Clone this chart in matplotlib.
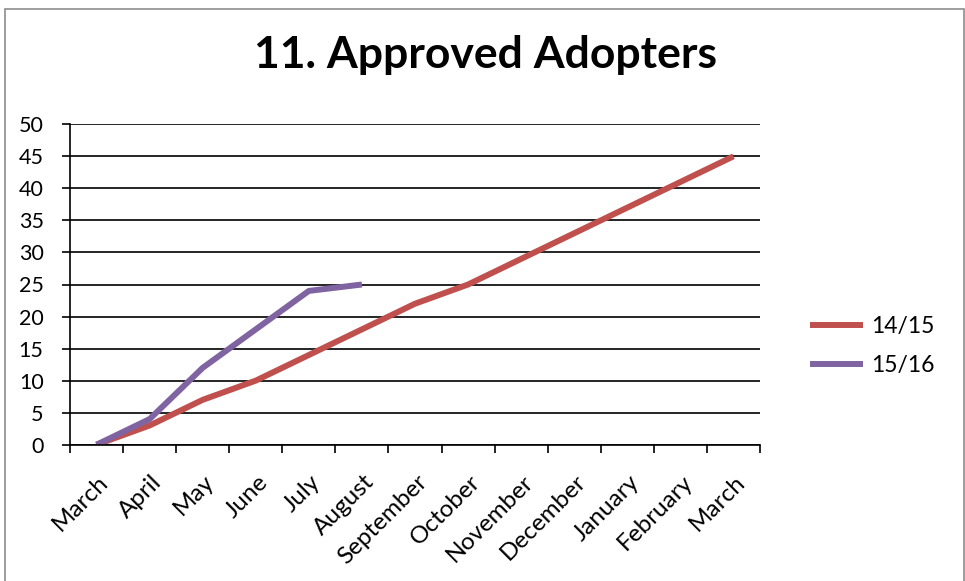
import matplotlib
matplotlib.use("Agg")
import matplotlib.pyplot as plt
from matplotlib.patches import Rectangle
from matplotlib.transforms import ScaledTranslation

# Monthly cumulative counts
months = ["March", "April", "May", "June", "July", "August", "September",
          "October", "November", "December", "January", "February", "March"]
series_1415 = [0, 3, 7, 10, 14, 18, 22, 25, 29, 33, 37, 41, 45]
series_1516 = [0, 4, 12, 18, 24, 25]
yticks = list(range(0, 55, 5))

RED = "#C0504D"
PURPLE = "#8064A2"

plt.rcParams["font.family"] = ["Lato", "DejaVu Sans"]

fig = plt.figure(figsize=(9.65, 5.81), dpi=100)
ax = fig.add_axes([70 / 965, 1 - 444.7 / 581, 690 / 965, 320.4 / 581])

x1 = list(range(len(series_1415)))
x2 = list(range(len(series_1516)))
ax.plot(x1, series_1415, color=RED, lw=4.3, label="14/15", solid_capstyle="butt")
ax.plot(x2, series_1516, color=PURPLE, lw=4.3, label="15/16", solid_capstyle="butt")

ax.set_xlim(-0.5, len(months) - 0.5)
ax.set_ylim(0, 50)
ax.set_yticks(yticks)
ax.tick_params(axis="y", direction="out", length=6, width=1.2, pad=13,
               labelsize=15.5, color="black")

# category boundaries carry the tick marks, centres carry the labels
ax.set_xticks([i - 0.5 for i in range(len(months) + 1)])
ax.set_xticklabels([])
ax.set_xticks(range(len(months)), minor=True)
ax.set_xticklabels(months, minor=True, rotation=45, ha="right",
                   rotation_mode="anchor", fontsize=17.5)
ax.tick_params(axis="x", which="major", direction="out", length=6, width=1.2)
ax.tick_params(axis="x", which="minor", length=0, pad=19)
shift = ScaledTranslation(1 / 100, 0, fig.dpi_scale_trans)
for lbl in ax.get_xticklabels(minor=True):
    lbl.set_transform(lbl.get_transform() + shift)

ax.grid(True, axis="y", color="black", lw=1.2)
ax.set_axisbelow(True)
for side in ("top", "right"):
    ax.spines[side].set_visible(False)
for side in ("left", "bottom"):
    ax.spines[side].set_linewidth(1.2)
    ax.spines[side].set_zorder(3)

fig.text(485 / 965, 1 - 55 / 581, "11. Approved Adopters", ha="center",
         va="center", fontsize=32, fontweight="bold")

ax.legend(loc="center left", bbox_to_anchor=(810 / 965, 1 - 346 / 581),
          bbox_transform=fig.transFigure, frameon=False, fontsize=16.5,
          handlelength=2.3, handletextpad=0.35, labelspacing=0.75,
          borderpad=0, borderaxespad=0)

# grey chart-area border
fig.patches.append(Rectangle((5 / 965, -0.05), 959 / 965, 1.05 - 9 / 581,
                             transform=fig.transFigure, fill=False,
                             edgecolor="#8c8c8c", lw=1.2))

fig.savefig("out.png", dpi=100)
plt.close(fig)
